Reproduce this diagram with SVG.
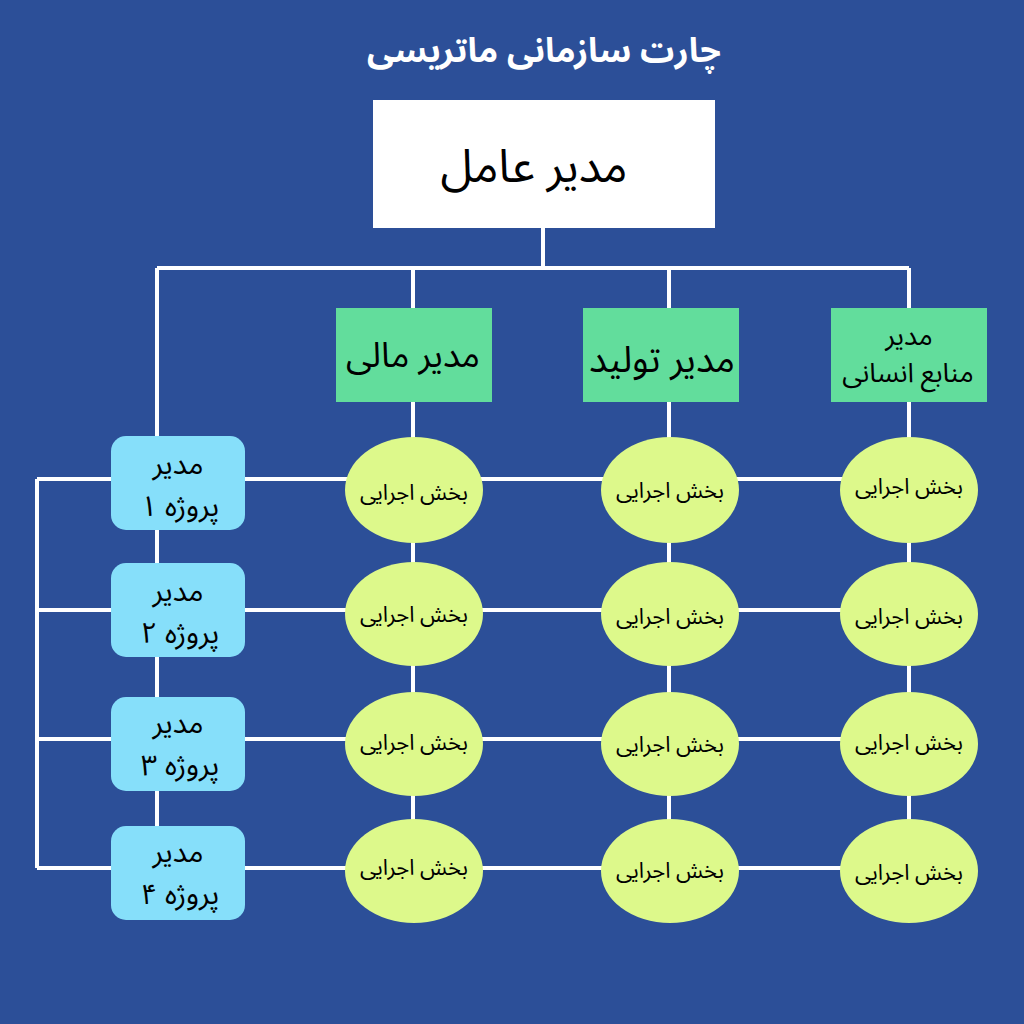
<svg xmlns="http://www.w3.org/2000/svg" width="1024" height="1024" viewBox="0 0 1024 1024">
<style>
text{font-family:"Noto Sans Arabic","Vazirmatn","DejaVu Sans",sans-serif;text-anchor:middle;direction:rtl}
.ln{stroke:#ffffff;stroke-width:4;fill:none}
.dept{fill:#62dd9c}
.proj{fill:#86dffa}
.unit{fill:#ddf98b}
.t{fill:#000000}
.u{font-size:22px;fill:#000000}
.p{font-size:29px;fill:#000000}
</style>
<rect x="0" y="0" width="1024" height="1024" fill="#2c4f98"/>
<text x="544" y="62" font-size="34" fill="#ffffff" font-weight="bold">چارت سازمانی ماتریسی</text>
<g id="connectors" class="ln">
<path d="M543 228V268M157 268H909M157 268V437M413 268V308M669 268V308M909 268V308"/>
<path d="M413 402V870M669 402V870M909 402V870M157 530V870"/>
<path d="M37 479V868M37 479H909M37 610H909M37 739H909M37 868H909"/>
</g>
<g id="ceo"><rect x="373" y="100" width="342" height="128" fill="#ffffff"/><text class="t" x="534" y="182" font-size="46">مدیر عامل</text></g>
<g id="finance"><rect class="dept" x="336" y="308" width="156" height="94"/><text class="t" x="413" y="367" font-size="35">مدیر مالی</text></g>
<g id="production"><rect class="dept" x="583" y="308" width="156" height="94"/><text class="t" x="662" y="372" font-size="37">مدیر تولید</text></g>
<g id="hr"><rect class="dept" x="831" y="308" width="156" height="94"/><text class="t" x="909" y="345" font-size="27">مدیر</text><text class="t" x="908" y="382" font-size="27">منابع انسانی</text></g>
<g id="p1"><rect class="proj" x="111" y="436" width="134" height="94" rx="15"/><text class="p" x="178" y="474">مدیر</text><text class="p" x="180" y="516">پروژه ۱</text></g>
<g id="p2"><rect class="proj" x="111" y="563" width="134" height="94" rx="15"/><text class="p" x="178" y="601">مدیر</text><text class="p" x="180" y="643">پروژه ۲</text></g>
<g id="p3"><rect class="proj" x="111" y="697" width="134" height="94" rx="15"/><text class="p" x="178" y="733">مدیر</text><text class="p" x="180" y="775">پروژه ۳</text></g>
<g id="p4"><rect class="proj" x="111" y="826" width="134" height="94" rx="15"/><text class="p" x="178" y="862">مدیر</text><text class="p" x="180" y="904">پروژه ۴</text></g>
<g id="u11"><ellipse class="unit" cx="414" cy="490" rx="69" ry="53"/><text class="u" x="414" y="500">بخش اجرایی</text></g>
<g id="u12"><ellipse class="unit" cx="670" cy="490" rx="69" ry="53"/><text class="u" x="670" y="498">بخش اجرایی</text></g>
<g id="u13"><ellipse class="unit" cx="909" cy="490" rx="69" ry="53"/><text class="u" x="909" y="494">بخش اجرایی</text></g>
<g id="u21"><ellipse class="unit" cx="414" cy="614" rx="69" ry="52"/><text class="u" x="414" y="622">بخش اجرایی</text></g>
<g id="u22"><ellipse class="unit" cx="670" cy="614" rx="69" ry="52"/><text class="u" x="670" y="624">بخش اجرایی</text></g>
<g id="u23"><ellipse class="unit" cx="909" cy="614" rx="69" ry="52"/><text class="u" x="909" y="624">بخش اجرایی</text></g>
<g id="u31"><ellipse class="unit" cx="414" cy="744" rx="69" ry="52"/><text class="u" x="414" y="750">بخش اجرایی</text></g>
<g id="u32"><ellipse class="unit" cx="670" cy="744" rx="69" ry="52"/><text class="u" x="670" y="752">بخش اجرایی</text></g>
<g id="u33"><ellipse class="unit" cx="909" cy="744" rx="69" ry="52"/><text class="u" x="909" y="750">بخش اجرایی</text></g>
<g id="u41"><ellipse class="unit" cx="414" cy="871" rx="69" ry="52"/><text class="u" x="414" y="875">بخش اجرایی</text></g>
<g id="u42"><ellipse class="unit" cx="670" cy="871" rx="69" ry="52"/><text class="u" x="670" y="878">بخش اجرایی</text></g>
<g id="u43"><ellipse class="unit" cx="909" cy="871" rx="69" ry="52"/><text class="u" x="909" y="880">بخش اجرایی</text></g>
</svg>
